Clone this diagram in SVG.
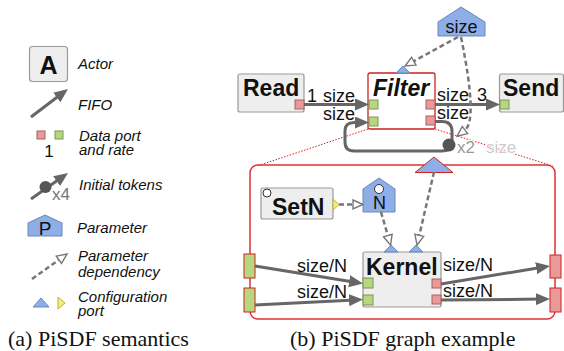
<svg xmlns="http://www.w3.org/2000/svg" width="564" height="351" viewBox="0 0 564 351">
<style>
.box{fill:#eeeeee;stroke:#999999;stroke-width:1.2}
.pr{fill:#ea9999;stroke:#a86060;stroke-width:1}
.pg{fill:#b7d77f;stroke:#7a9658;stroke-width:1}
.ipr{fill:#ea9999;stroke:#cc2222;stroke-width:1}
.ipg{fill:#b7d77f;stroke:#cc2222;stroke-width:1}
.par{fill:#8eaee8;stroke:#6a88b8;stroke-width:1}
.cy{fill:#f2ee7a;stroke:#b8b040;stroke-width:1}
.fifo{fill:none;stroke:#666666;stroke-width:3;marker-end:url(#ah)}
.dep{fill:none;stroke:#777777;stroke-width:2.5;stroke-dasharray:5 3;marker-end:url(#hh)}
.zoom{fill:none;stroke:#dd2222;stroke-width:1;stroke-dasharray:1.5 1.5}
.lg{font-family:'Liberation Sans',Arial,sans-serif;font-style:italic;font-size:15px;fill:#111}
.lb{font-family:'Liberation Sans',Arial,sans-serif;font-size:18px;fill:#111}
.an{font-family:'Liberation Sans',Arial,sans-serif;font-weight:bold;font-size:23px;fill:#111}
.cap{font-family:'Liberation Serif','Times New Roman',serif;font-size:22px;fill:#111}
</style>
<defs>
<marker id="ah" markerUnits="userSpaceOnUse" markerWidth="14" markerHeight="12" refX="6" refY="6" orient="auto">
<path d="M0,0 L14,6 L0,12 z" fill="#666666"/>
</marker>
<marker id="hh" markerUnits="userSpaceOnUse" markerWidth="13" markerHeight="12" refX="1" refY="6" orient="auto">
<path d="M1,1.5 L11,6 L1,10.5 z" fill="#ffffff" stroke="#777777" stroke-width="1.4"/>
</marker>
</defs>

<!-- Legend -->
<g id="legend">
<g id="leg-actor">
<rect class="box" x="29.5" y="46.5" width="38" height="35" rx="3"/>
<text x="48.5" y="74" text-anchor="middle" font-family="'Liberation Sans',Arial,sans-serif" font-weight="bold" font-size="25" fill="#111">A</text>
<text class="lg" x="78" y="69">Actor</text>
</g>
<g id="leg-fifo">
<line class="fifo" x1="31" y1="117" x2="61.6" y2="93.8"/>
<text class="lg" x="78" y="110">FIFO</text>
</g>
<g id="leg-port">
<rect class="pr" x="37" y="131" width="8" height="8"/>
<rect class="pg" x="55" y="131" width="8" height="8"/>
<text x="49" y="157" text-anchor="middle" font-family="'Liberation Sans',Arial,sans-serif" font-size="17" fill="#111">1</text>
<text class="lg" x="79" y="141">Data port</text>
<text class="lg" x="79" y="155">and rate</text>
</g>
<g id="leg-delay">
<line class="fifo" x1="31" y1="199" x2="61.5" y2="177.6"/>
<circle cx="45.5" cy="187" r="6" fill="#555555"/>
<text x="52" y="200" font-family="'Liberation Sans',Arial,sans-serif" font-size="17" fill="#777">x4</text>
<text class="lg" x="79" y="190">Initial tokens</text>
</g>
<g id="leg-param">
<path class="par" d="M28,236 L28,223 L45,215 L62,223 L62,236 z"/>
<text x="45" y="234.5" text-anchor="middle" font-family="'Liberation Sans',Arial,sans-serif" font-size="19" fill="#111">P</text>
<text class="lg" x="77" y="233">Parameter</text>
</g>
<g id="leg-dep">
<line class="dep" x1="32" y1="279" x2="58.9" y2="259.8"/>
<text class="lg" x="78" y="261">Parameter</text>
<text class="lg" x="78" y="277">dependency</text>
</g>
<g id="leg-cfg">
<path class="par" d="M33,307 L49,307 L41,298 z"/>
<path class="cy" d="M58,297 L58,309 L65,303 z"/>
<text class="lg" x="78" y="302">Configuration</text>
<text class="lg" x="78" y="316">port</text>
</g>
</g>
<text class="cap" x="8" y="346">(a) PiSDF semantics</text>

<!-- zoom lines -->
<g id="zoomlines">
<line class="zoom" x1="368" y1="129" x2="257" y2="166"/>
<line class="zoom" x1="435" y1="129" x2="553" y2="166"/>
</g>

<!-- subgraph container -->
<g id="subgraph">
<rect x="250" y="165" width="305" height="154" rx="8" fill="none" stroke="#dd3333" stroke-width="1.5"/>
</g>

<!-- Nodes -->
<g id="read">
<rect class="box" x="238" y="74" width="66" height="38" rx="2"/>
<text class="an" x="243" y="96">Read</text>
<rect class="pr" x="295" y="100" width="9" height="9"/>
</g>
<g id="filter">
<rect x="368" y="73" width="67" height="56" rx="2" fill="#ffffff" stroke="#cc2222" stroke-width="1.3"/>
<text class="an" x="373" y="96" font-style="italic">Filter</text>
<rect class="pg" x="369" y="100" width="9" height="9"/>
<rect class="pg" x="369" y="117" width="9" height="9"/>
<rect class="pr" x="426" y="100" width="9" height="9"/>
<rect class="pr" x="426" y="116" width="9" height="9"/>
<path class="par" d="M396,73 L410,73 L403,66 z"/>
</g>
<g id="send">
<rect class="box" x="499.5" y="74" width="64" height="38" rx="2"/>
<text class="an" x="503" y="96">Send</text>
<rect class="pg" x="500" y="100" width="9" height="9"/>
</g>
<g id="param-size">
<path class="par" d="M438,36 L438,22 L461,7 L485,22 L485,36 z"/>
<text class="lb" x="461.5" y="33" text-anchor="middle">size</text>
</g>
<g id="setn">
<rect class="box" x="261" y="188" width="72" height="31" rx="2"/>
<circle cx="267" cy="193" r="4" fill="#ffffff" stroke="#333" stroke-width="1"/>
<text class="an" x="272" y="215">SetN</text>
<path class="cy" d="M333,199 L333,210 L339,204.5 z"/>
</g>
<g id="param-n">
<path class="par" d="M363,212 L363,189 L379,178 L395,189 L395,212 z"/>
<circle cx="379" cy="189" r="4.5" fill="#ffffff" stroke="#333" stroke-width="1"/>
<text class="lb" x="379.5" y="209" text-anchor="middle">N</text>
</g>
<g id="kernel">
<rect class="box" x="363" y="252" width="78" height="55" rx="2"/>
<text class="an" x="366" y="275">Kernel</text>
<rect class="pg" x="363" y="278" width="10" height="10"/>
<rect class="pg" x="363" y="295" width="10" height="10"/>
<rect class="pr" x="432" y="279" width="9" height="9"/>
<rect class="pr" x="432" y="295" width="9" height="9"/>
<path class="par" d="M384,252 L398,252 L391,245 z"/>
<path class="par" d="M409,252 L423,252 L416,245 z"/>
</g>
<g id="if-in1"><rect class="ipg" x="244" y="254" width="11" height="24"/></g>
<g id="if-in2"><rect class="ipg" x="244" y="288" width="11" height="24"/></g>
<g id="if-out1"><rect class="ipr" x="550" y="255" width="11" height="23"/></g>
<g id="if-out2"><rect class="ipr" x="550" y="288" width="11" height="24"/></g>
<g id="cfg-size"><path d="M415,172.5 L453,172.5 L434,157 z" fill="#8eaee8" stroke="#cc2222" stroke-width="1"/></g>

<!-- Connectors -->
<g id="connectors">
<line class="fifo" x1="304" y1="104.5" x2="361" y2="104.5"/>
<line class="fifo" x1="435" y1="104.5" x2="492" y2="104.5"/>
<path class="fifo" d="M435,121.5 H442 Q452,121.5 452,131.5 V141 Q452,151 442,151 H354 Q345,151 345,142 V131 Q345,122.5 354,122.5 H361"/>
<circle cx="449" cy="145" r="6.5" fill="#555555"/>
<line class="fifo" x1="255" y1="266" x2="355.1" y2="282.2"/>
<line class="fifo" x1="255" y1="305" x2="355" y2="299.9"/>
<line class="fifo" x1="441" y1="284" x2="542.1" y2="267.3"/>
<line class="fifo" x1="441" y1="300" x2="542" y2="299.1"/>
<line class="dep" x1="458" y1="37" x2="413.8" y2="61.2"/>
<path class="dep" d="M461,37 Q478,120 465,130"/>
<line class="dep" x1="339" y1="204.5" x2="353" y2="204.5"/>
<line class="dep" x1="381" y1="212" x2="387.8" y2="235.5"/>
<line class="dep" x1="434" y1="172" x2="419.3" y2="235.3"/>
</g>

<!-- labels -->
<g id="labels">
<text class="lb" x="307" y="102">1</text>
<text class="lb" x="323" y="102">size</text>
<text class="lb" x="323" y="120">size</text>
<text class="lb" x="437" y="101">size</text>
<text class="lb" x="477" y="101">3</text>
<text class="lb" x="437" y="119">size</text>
<text x="457" y="153" font-family="'Liberation Sans',Arial,sans-serif" font-size="17" fill="#999999" stroke="#ffffff" stroke-width="2" paint-order="stroke">x2</text>
<text x="486" y="153" font-family="'Liberation Sans',Arial,sans-serif" font-size="17" fill="#cccccc" stroke="#ffffff" stroke-width="2" paint-order="stroke">size</text>
<text class="lb" x="297" y="272">size/N</text>
<text class="lb" x="297" y="298">size/N</text>
<text class="lb" x="443" y="271">size/N</text>
<text class="lb" x="443" y="297">size/N</text>
</g>
<text class="cap" x="290" y="346">(b) PiSDF graph example</text>
</svg>
